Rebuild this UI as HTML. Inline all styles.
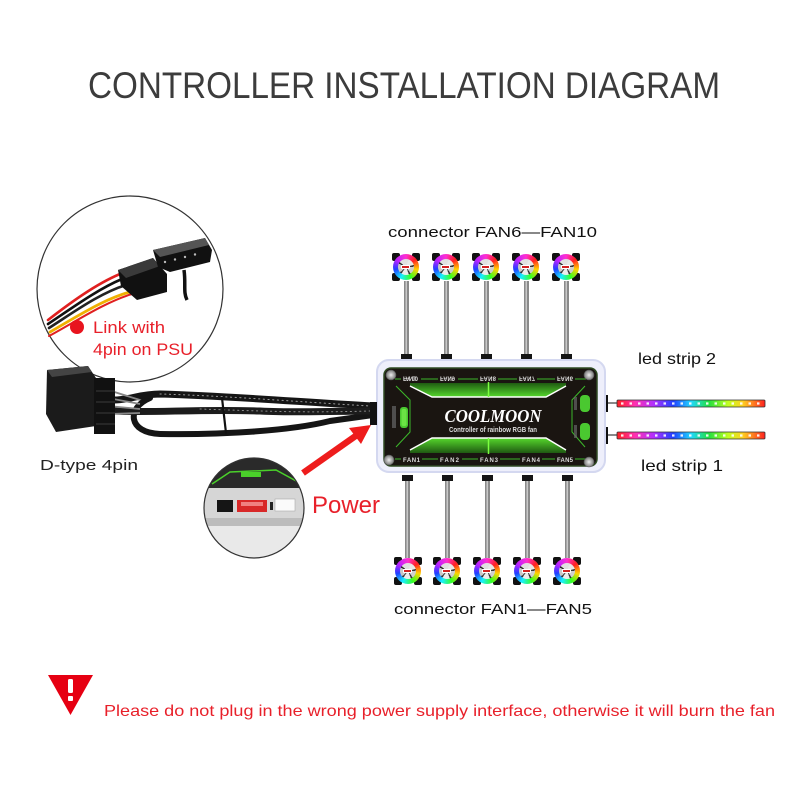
<!DOCTYPE html>
<html><head><meta charset="utf-8">
<style>
html,body{margin:0;padding:0;background:#fff;}
#wrap{position:relative;width:800px;height:800px;overflow:hidden;background:#fff;}
svg{position:absolute;left:0;top:0;}
.fan{position:absolute;width:28px;height:28px;}
.fan .c{position:absolute;width:8px;height:8px;background:#111;border-radius:2px;}
.fan .ring{position:absolute;left:1px;top:1px;width:26px;height:26px;border-radius:50%;
background:conic-gradient(from 0deg,#ff2fd0,#ff2020,#ffd200,#38ff20,#18f0ff,#2040ff,#c020ff,#ff2fd0);}
.fan .in{position:absolute;left:6px;top:6px;width:16px;height:16px;border-radius:50%;
background:conic-gradient(from 20deg,#e8e8e8 0 55deg,#333 55deg 68deg,#cfcfcf 68deg 125deg,#2a2a2a 125deg 138deg,#ececec 138deg 195deg,#333 195deg 208deg,#c8c8c8 208deg 275deg,#2a2a2a 275deg 288deg,#e0e0e0 288deg 360deg);}
.fan .bar{position:absolute;left:9px;top:12px;width:9px;height:4px;background:#d42020;border:1px solid #fff;border-radius:1px;box-sizing:border-box;}
</style></head><body><div id="wrap">
<svg width="800" height="800" viewBox="0 0 800 800" xmlns="http://www.w3.org/2000/svg">
<defs>
<linearGradient id="strip" x1="0" x2="1" y1="0" y2="0">
<stop offset="0" stop-color="#ff2020"/>
<stop offset="0.12" stop-color="#ff30b0"/>
<stop offset="0.25" stop-color="#b030ff"/>
<stop offset="0.38" stop-color="#2040ff"/>
<stop offset="0.5" stop-color="#20d8ff"/>
<stop offset="0.62" stop-color="#20e040"/>
<stop offset="0.75" stop-color="#c0ff20"/>
<stop offset="0.85" stop-color="#ffd020"/>
<stop offset="1" stop-color="#ff2020"/>
</linearGradient>
<linearGradient id="gtop" x1="0" x2="0" y1="0" y2="1">
<stop offset="0" stop-color="#1f5a12"/><stop offset="1" stop-color="#56d82c"/>
</linearGradient>
<linearGradient id="gbot" x1="0" x2="0" y1="0" y2="1">
<stop offset="0" stop-color="#56d82c"/><stop offset="1" stop-color="#1f5a12"/>
</linearGradient>
<radialGradient id="screw"><stop offset="0" stop-color="#eee"/><stop offset="1" stop-color="#777"/></radialGradient>
<clipPath id="pc"><circle cx="254" cy="508" r="50"/></clipPath>
</defs>

<!-- Title -->
<text x="88" y="98" font-family="Liberation Sans, sans-serif" font-size="37" fill="#3c3c3c" textLength="632" lengthAdjust="spacingAndGlyphs">CONTROLLER INSTALLATION DIAGRAM</text>

<!-- connector labels -->
<text x="388" y="237" font-family="Liberation Sans, sans-serif" font-size="15" fill="#111" textLength="209" lengthAdjust="spacingAndGlyphs">connector  FAN6—FAN10</text>
<text x="394" y="614" font-family="Liberation Sans, sans-serif" font-size="15" fill="#111" textLength="198" lengthAdjust="spacingAndGlyphs">connector  FAN1—FAN5</text>

<!-- top fan cables -->
<g>
<rect x="404" y="281" width="5" height="75" fill="#8a8a8a"/><rect x="405.5" y="281" width="1.5" height="75" fill="#c8c8c8"/>
<rect x="444" y="281" width="5" height="75" fill="#8a8a8a"/><rect x="445.5" y="281" width="1.5" height="75" fill="#c8c8c8"/>
<rect x="484" y="281" width="5" height="75" fill="#8a8a8a"/><rect x="485.5" y="281" width="1.5" height="75" fill="#c8c8c8"/>
<rect x="524" y="281" width="5" height="75" fill="#8a8a8a"/><rect x="525.5" y="281" width="1.5" height="75" fill="#c8c8c8"/>
<rect x="564" y="281" width="5" height="75" fill="#8a8a8a"/><rect x="565.5" y="281" width="1.5" height="75" fill="#c8c8c8"/>
<rect x="401" y="354" width="11" height="6" fill="#151515"/>
<rect x="441" y="354" width="11" height="6" fill="#151515"/>
<rect x="481" y="354" width="11" height="6" fill="#151515"/>
<rect x="521" y="354" width="11" height="6" fill="#151515"/>
<rect x="561" y="354" width="11" height="6" fill="#151515"/>
</g>
<!-- bottom fan cables -->
<g>
<rect x="405" y="478" width="5" height="80" fill="#8a8a8a"/><rect x="406.5" y="478" width="1.5" height="80" fill="#c8c8c8"/>
<rect x="445" y="478" width="5" height="80" fill="#8a8a8a"/><rect x="446.5" y="478" width="1.5" height="80" fill="#c8c8c8"/>
<rect x="485" y="478" width="5" height="80" fill="#8a8a8a"/><rect x="486.5" y="478" width="1.5" height="80" fill="#c8c8c8"/>
<rect x="525" y="478" width="5" height="80" fill="#8a8a8a"/><rect x="526.5" y="478" width="1.5" height="80" fill="#c8c8c8"/>
<rect x="565" y="478" width="5" height="80" fill="#8a8a8a"/><rect x="566.5" y="478" width="1.5" height="80" fill="#c8c8c8"/>
<rect x="402" y="475" width="11" height="6" fill="#151515"/>
<rect x="442" y="475" width="11" height="6" fill="#151515"/>
<rect x="482" y="475" width="11" height="6" fill="#151515"/>
<rect x="522" y="475" width="11" height="6" fill="#151515"/>
<rect x="562" y="475" width="11" height="6" fill="#151515"/>
</g>

<!-- LED strips -->
<text x="638" y="364" font-family="Liberation Sans, sans-serif" font-size="16" fill="#111" textLength="78" lengthAdjust="spacingAndGlyphs">led strip 2</text>
<text x="641" y="471" font-family="Liberation Sans, sans-serif" font-size="16" fill="#111" textLength="82" lengthAdjust="spacingAndGlyphs">led strip 1</text>
<g>
<rect x="603" y="395" width="5" height="17" fill="#111"/>
<rect x="603" y="427" width="5" height="17" fill="#111"/>
<rect x="608" y="402" width="9" height="2" fill="#888"/>
<rect x="608" y="434" width="9" height="2" fill="#888"/>
<rect x="617" y="400" width="148" height="7" rx="1" fill="url(#strip)" stroke="#333" stroke-width="0.8"/>
<rect x="617" y="432" width="148" height="7" rx="1" fill="url(#strip)" stroke="#333" stroke-width="0.8"/>
<line x1="621" y1="403.5" x2="763" y2="403.5" stroke="#fff" stroke-width="2.2" stroke-dasharray="2.5 6" opacity="0.9"/>
<line x1="621" y1="435.5" x2="763" y2="435.5" stroke="#fff" stroke-width="2.2" stroke-dasharray="2.5 6" opacity="0.9"/>
</g>

<!-- Controller -->
<rect x="377" y="360" width="228" height="112" rx="12" fill="#eeeffb" stroke="#d4d8f0" stroke-width="2"/>
<rect x="384" y="368" width="213" height="98" rx="7" fill="#1a1511" stroke="#2f4a22" stroke-width="1.5"/>
<g stroke="#3cb82a" stroke-width="1" fill="none">
<line x1="395" y1="379" x2="586" y2="379"/>
<line x1="395" y1="459" x2="586" y2="459"/>
<polyline points="396,386 410,400 410,432 396,447"/>
<polyline points="585,386 572,400 572,432 585,447"/>
</g>
<polygon points="410,383 566,383 566,386 546,397 432,397 410,386" fill="url(#gtop)"/>
<polyline points="410,386 432,397 546,397 566,386" fill="none" stroke="#fff" stroke-width="1.5"/>
<polygon points="432,438 546,438 566,450 566,453 410,453 410,450" fill="url(#gbot)"/>
<polyline points="410,450 432,438 546,438 566,450" fill="none" stroke="#fff" stroke-width="1.5"/>
<line x1="488.5" y1="382" x2="488.5" y2="397" stroke="#7dff40" stroke-width="1.5"/>
<line x1="488.5" y1="438" x2="488.5" y2="454" stroke="#7dff40" stroke-width="1.5"/>
<g font-family="Liberation Sans, sans-serif" font-size="6" fill="#ddd" font-weight="bold">
<g transform="translate(0,758) scale(1,-1)">
<rect x="401" y="376" width="20" height="6" fill="#1a1511"/>
<rect x="438" y="376" width="20" height="6" fill="#1a1511"/>
<rect x="478" y="376" width="20" height="6" fill="#1a1511"/>
<rect x="517" y="376" width="20" height="6" fill="#1a1511"/>
<rect x="555" y="376" width="20" height="6" fill="#1a1511"/>
<text x="403" y="381.5" textLength="15">FAN10</text>
<text x="440" y="381.5" textLength="15">FAN9</text>
<text x="480" y="381.5" textLength="16">FAN8</text>
<text x="519" y="381.5" textLength="16">FAN7</text>
<text x="557" y="381.5" textLength="16">FAN6</text>
</g>
<rect x="401" y="456" width="21" height="6" fill="#1a1511"/>
<rect x="438" y="456" width="24" height="6" fill="#1a1511"/>
<rect x="478" y="456" width="22" height="6" fill="#1a1511"/>
<rect x="520" y="456" width="22" height="6" fill="#1a1511"/>
<rect x="555" y="456" width="20" height="6" fill="#1a1511"/>
<text x="403" y="462" textLength="17">FAN1</text>
<text x="440" y="462" textLength="19">FAN2</text>
<text x="480" y="462" textLength="18">FAN3</text>
<text x="522" y="462" textLength="18">FAN4</text>
<text x="557" y="462" textLength="16">FAN5</text>
</g>
<rect x="400" y="407" width="8" height="21" rx="3" fill="#4ac830"/>
<rect x="401.5" y="409" width="5" height="17" rx="2" fill="#8bff5a" opacity="0.5"/>
<rect x="580" y="395" width="10" height="17" rx="4" fill="#4ac830"/>
<rect x="580" y="423" width="10" height="17" rx="4" fill="#4ac830"/>
<rect x="392" y="406" width="4" height="22" fill="#666" opacity="0.7"/>
<rect x="574" y="397" width="3" height="13" fill="#666" opacity="0.7"/>
<rect x="574" y="425" width="3" height="13" fill="#666" opacity="0.7"/>
<text x="493" y="422" text-anchor="middle" font-family="Liberation Serif, serif" font-style="italic" font-weight="bold" font-size="18" fill="#fff" textLength="97" lengthAdjust="spacingAndGlyphs">COOLMOON</text>
<text x="493" y="432" text-anchor="middle" font-family="Liberation Sans, sans-serif" font-weight="bold" font-size="7" fill="#ddd" textLength="88" lengthAdjust="spacingAndGlyphs">Controller of rainbow RGB fan</text>
<circle cx="391" cy="375" r="5" fill="url(#screw)" stroke="#555" stroke-width="0.6"/>
<circle cx="589" cy="375" r="5" fill="url(#screw)" stroke="#555" stroke-width="0.6"/>
<circle cx="389" cy="460" r="5" fill="url(#screw)" stroke="#555" stroke-width="0.6"/>
<circle cx="589" cy="462" r="5" fill="url(#screw)" stroke="#555" stroke-width="0.6"/>

<!-- PSU circle -->
<circle cx="130" cy="289" r="93" fill="#fff" stroke="#333" stroke-width="1.2"/>
<g fill="none" stroke-linecap="round">
<path d="M 48 320 C 70 303, 96 284, 120 274" stroke="#e02020" stroke-width="2.6"/>
<path d="M 48 324 C 72 308, 98 289, 122 279" stroke="#111" stroke-width="2.6"/>
<path d="M 49 328 C 74 312, 100 293, 126 285" stroke="#222" stroke-width="2.6"/>
<path d="M 50 332 C 78 316, 108 296, 138 290" stroke="#f0b000" stroke-width="2.8"/>
<path d="M 49 336 C 75 322, 105 302, 132 294" stroke="#e02020" stroke-width="2"/>
</g>
<polygon points="118,270 153,258 167,274 167,292 137,300 121,286" fill="#111"/>
<polygon points="118,270 153,258 160,266 126,278" fill="#3a3a3a"/>
<polygon points="153,250 205,238 212,250 210,262 170,272 158,267" fill="#111"/>
<polygon points="153,250 205,238 209,245 160,257" fill="#555"/>
<g fill="#bbb"><circle cx="165" cy="262" r="1.2"/><circle cx="175" cy="259.5" r="1.2"/><circle cx="185" cy="257" r="1.2"/><circle cx="195" cy="254.5" r="1.2"/></g>
<path d="M 184 270 C 186 284, 183 292, 187 300" fill="none" stroke="#111" stroke-width="3.5"/>
<circle cx="77" cy="327" r="7" fill="#e8141e"/>
<text x="93" y="333" font-family="Liberation Sans, sans-serif" font-size="17" fill="#e8202a" textLength="72" lengthAdjust="spacingAndGlyphs">Link with</text>
<text x="93" y="355" font-family="Liberation Sans, sans-serif" font-size="17" fill="#e8202a" textLength="100" lengthAdjust="spacingAndGlyphs">4pin on PSU</text>

<!-- D-type cable -->
<g fill="none" stroke-linecap="round">
<path d="M 150 398 C 126 408, 128 433, 160 434 C 220 435, 290 431, 330 421 L 373 415" stroke="#151515" stroke-width="6"/>
<path d="M 114 400 C 130 400, 140 394, 160 394 C 230 396, 300 402, 373 406" stroke="#151515" stroke-width="7"/>
<path d="M 114 411 C 150 413, 200 409, 260 411 C 300 413, 340 411, 373 411" stroke="#1c1c1c" stroke-width="7"/>
<path d="M 160 394 C 230 396, 300 402, 370 406" stroke="#9a9a9a" stroke-width="1" stroke-dasharray="1.2 3.5"/>
<path d="M 200 409 C 260 411, 300 413, 370 411" stroke="#8a8a8a" stroke-width="1" stroke-dasharray="1.2 3.5"/>
<line x1="222" y1="398" x2="226" y2="433" stroke="#111" stroke-width="2.2"/>
</g>
<g stroke="#888" stroke-width="1.8">
<line x1="108" y1="390" x2="140" y2="400"/><line x1="108" y1="398" x2="140" y2="404"/>
<line x1="108" y1="406" x2="140" y2="409"/><line x1="108" y1="414" x2="140" y2="413"/>
</g>
<polygon points="47,370 88,366 96,378 96,426 56,432 46,414" fill="#1b1b1b"/>
<polygon points="47,370 88,366 92,372 52,377" fill="#444"/>
<rect x="94" y="378" width="21" height="56" fill="#111"/>
<g stroke="#3a3a3a" stroke-width="1"><line x1="96" y1="391" x2="115" y2="391"/><line x1="96" y1="402" x2="115" y2="402"/><line x1="96" y1="413" x2="115" y2="413"/><line x1="96" y1="424" x2="115" y2="424"/></g>
<rect x="370" y="402" width="7" height="23" fill="#111"/>
<text x="40" y="470" font-family="Liberation Sans, sans-serif" font-size="15" fill="#222" textLength="98" lengthAdjust="spacingAndGlyphs">D-type 4pin</text>

<!-- Power inset -->
<g clip-path="url(#pc)">
<rect x="200" y="455" width="110" height="110" fill="#f2f2f2"/>
<rect x="200" y="455" width="110" height="33" fill="#2a2a2a"/>
<polyline points="212,484 230,472 276,470 298,482" fill="none" stroke="#4ad02a" stroke-width="1.5"/>
<rect x="241" y="472" width="20" height="5" fill="#4ad02a"/>
<rect x="200" y="488" width="110" height="34" fill="#d6d6d6"/>
<rect x="200" y="518" width="110" height="8" fill="#bcbcbc"/>
<rect x="200" y="526" width="110" height="40" fill="#e9e9e9"/>
<rect x="217" y="500" width="16" height="12" fill="#151515"/>
<rect x="237" y="500" width="30" height="12" fill="#d82828"/>
<rect x="241" y="502" width="22" height="4" fill="#f08080"/>
<rect x="270" y="502" width="3" height="8" fill="#222"/>
<rect x="275" y="499" width="20" height="12" fill="#fafafa" stroke="#aaa" stroke-width="0.6"/>
</g>
<circle cx="254" cy="508" r="50" fill="none" stroke="#333" stroke-width="1.2"/>
<text x="312" y="513" font-family="Liberation Sans, sans-serif" font-size="24" fill="#e8202a" textLength="68" lengthAdjust="spacingAndGlyphs">Power</text>
<line x1="303" y1="473" x2="357" y2="435" stroke="#ee1c1c" stroke-width="6.5"/>
<polygon points="371,425 361,444 349,428" fill="#ee1c1c"/>

<!-- warning -->
<polygon points="48,675 93,675 70.5,715" fill="#e60012"/>
<rect x="68" y="679" width="5" height="14" rx="1.5" fill="#fff"/>
<rect x="68" y="696" width="5" height="5" rx="1" fill="#fff"/>
<text x="104" y="716" font-family="Liberation Sans, sans-serif" font-size="16" fill="#e8202a" textLength="671" lengthAdjust="spacingAndGlyphs">Please do not plug in the wrong power supply interface, otherwise it will burn the fan</text>
</svg>

<div class="fan" style="left:392px;top:253px"><div class="c" style="left:0;top:0"></div><div class="c" style="right:0;top:0"></div><div class="c" style="left:0;bottom:0"></div><div class="c" style="right:0;bottom:0"></div><div class="ring"></div><div class="in"></div><div class="bar"></div></div>
<div class="fan" style="left:432px;top:253px"><div class="c" style="left:0;top:0"></div><div class="c" style="right:0;top:0"></div><div class="c" style="left:0;bottom:0"></div><div class="c" style="right:0;bottom:0"></div><div class="ring"></div><div class="in"></div><div class="bar"></div></div>
<div class="fan" style="left:472px;top:253px"><div class="c" style="left:0;top:0"></div><div class="c" style="right:0;top:0"></div><div class="c" style="left:0;bottom:0"></div><div class="c" style="right:0;bottom:0"></div><div class="ring"></div><div class="in"></div><div class="bar"></div></div>
<div class="fan" style="left:512px;top:253px"><div class="c" style="left:0;top:0"></div><div class="c" style="right:0;top:0"></div><div class="c" style="left:0;bottom:0"></div><div class="c" style="right:0;bottom:0"></div><div class="ring"></div><div class="in"></div><div class="bar"></div></div>
<div class="fan" style="left:552px;top:253px"><div class="c" style="left:0;top:0"></div><div class="c" style="right:0;top:0"></div><div class="c" style="left:0;bottom:0"></div><div class="c" style="right:0;bottom:0"></div><div class="ring"></div><div class="in"></div><div class="bar"></div></div>
<div class="fan" style="left:394px;top:557px"><div class="c" style="left:0;top:0"></div><div class="c" style="right:0;top:0"></div><div class="c" style="left:0;bottom:0"></div><div class="c" style="right:0;bottom:0"></div><div class="ring"></div><div class="in"></div><div class="bar"></div></div>
<div class="fan" style="left:433px;top:557px"><div class="c" style="left:0;top:0"></div><div class="c" style="right:0;top:0"></div><div class="c" style="left:0;bottom:0"></div><div class="c" style="right:0;bottom:0"></div><div class="ring"></div><div class="in"></div><div class="bar"></div></div>
<div class="fan" style="left:473px;top:557px"><div class="c" style="left:0;top:0"></div><div class="c" style="right:0;top:0"></div><div class="c" style="left:0;bottom:0"></div><div class="c" style="right:0;bottom:0"></div><div class="ring"></div><div class="in"></div><div class="bar"></div></div>
<div class="fan" style="left:513px;top:557px"><div class="c" style="left:0;top:0"></div><div class="c" style="right:0;top:0"></div><div class="c" style="left:0;bottom:0"></div><div class="c" style="right:0;bottom:0"></div><div class="ring"></div><div class="in"></div><div class="bar"></div></div>
<div class="fan" style="left:553px;top:557px"><div class="c" style="left:0;top:0"></div><div class="c" style="right:0;top:0"></div><div class="c" style="left:0;bottom:0"></div><div class="c" style="right:0;bottom:0"></div><div class="ring"></div><div class="in"></div><div class="bar"></div></div>
</div></body></html>
